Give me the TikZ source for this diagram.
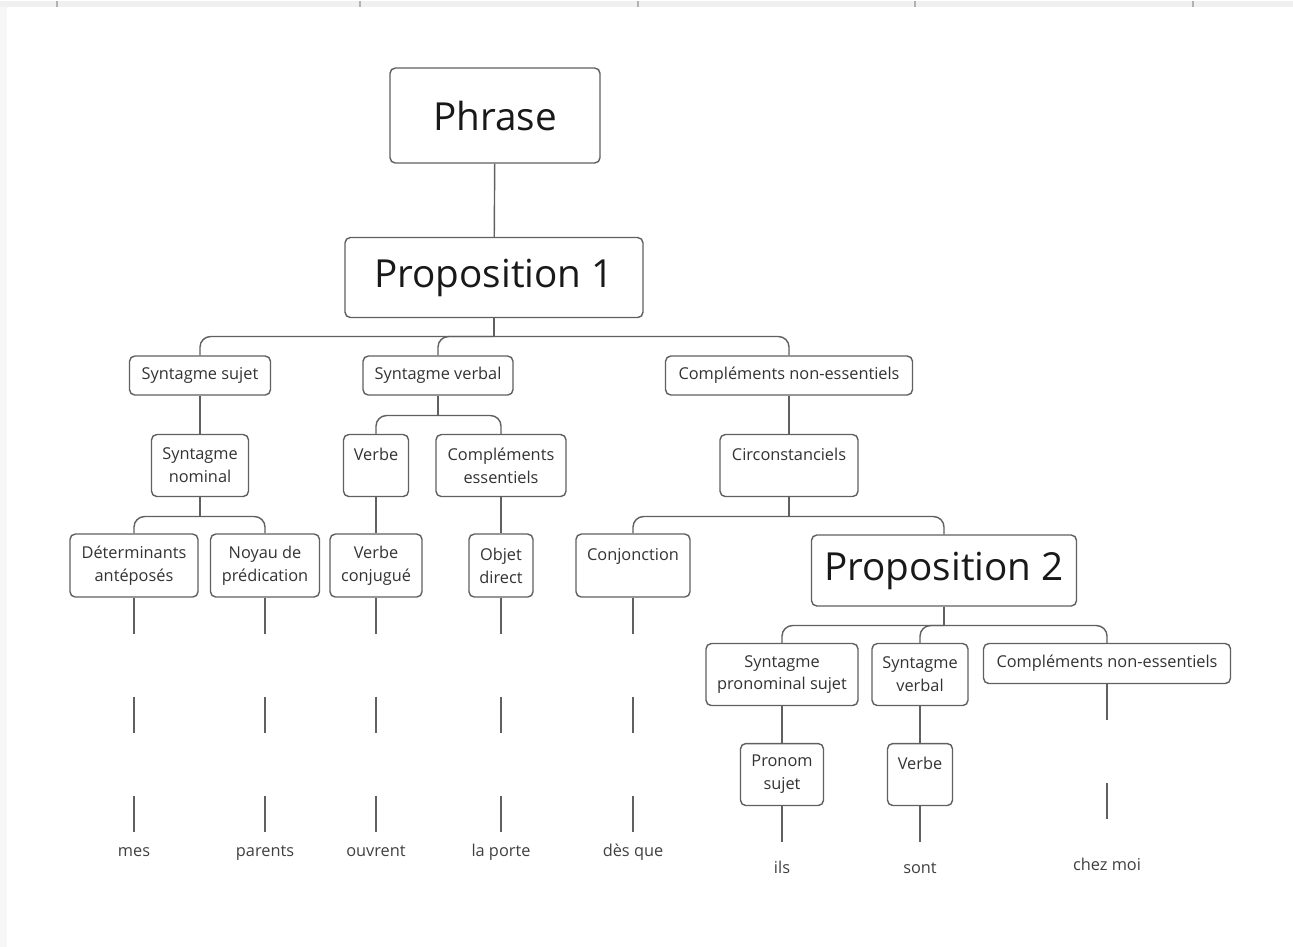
\documentclass[tikz,border=0pt]{standalone}
\usepackage{fontspec}
\setmainfont{Open Sans}
\begin{document}
\begin{tikzpicture}[x=0.02cm,y=-0.02cm,
    box/.style={draw=gray!75!black, fill=white, rounded corners=3pt, line width=0.8pt,
      align=center, inner sep=0pt, font=\fontsize{9.3}{13}\selectfont, text=black!80},
    bigbox/.style={box, font=\fontsize{22}{26}\selectfont, text=black!90},
    word/.style={inner sep=2pt, text height=1.6ex, text depth=0.3ex,
      font=\fontsize{9.3}{13}\selectfont, text=black!75},
    link/.style={draw=gray!75!black, line width=0.8pt},
    bus/.style={link, rounded corners=6pt},
    leaf/.style={link, dash pattern=on 20.5pt off 35.8pt}]
  % page and sheet edges
  \fill[white] (0,0) rectangle (1293,946);
  \fill[gray!12] (0,0) rectangle (1293,6);
  \fill[gray!6] (0,6) rectangle (7,946);
  \foreach \x in {57,360,638,915,1193}
    \draw[gray!60, line width=0.6pt] (\x,0) -- (\x,6);

  % top of the tree
  \node[bigbox, minimum width=4.2cm, minimum height=1.9cm] (phrase) at (495,115) {Phrase};
  \node[bigbox, minimum width=5.96cm, minimum height=1.6cm] (prop1) at (494,277) {Proposition 1};

  % first level
  \node[box, minimum width=2.82cm, minimum height=0.78cm] (ssujet) at (200,375) {Syntagme sujet};
  \node[box, minimum width=3.0cm, minimum height=0.78cm] (sverbal) at (438,375) {Syntagme verbal};
  \node[box, minimum width=4.94cm, minimum height=0.78cm] (cne) at (789,375) {Compléments non-essentiels};

  % second level
  \node[box, minimum width=1.94cm, minimum height=1.24cm] (snominal) at (200,465) {Syntagme\\nominal};
  \node[box, minimum width=1.3cm, minimum height=1.24cm] (verbe) at (376,465) {Verbe\\~};
  \node[box, minimum width=2.6cm, minimum height=1.24cm] (cess) at (501,465) {Compléments\\essentiels};
  \node[box, minimum width=2.76cm, minimum height=1.24cm] (circ) at (789,465) {Circonstanciels\\~};

  % third level
  \node[box, minimum width=2.56cm, minimum height=1.26cm] (det) at (134,565) {Déterminants\\antéposés};
  \node[box, minimum width=2.18cm, minimum height=1.26cm] (noyau) at (265,565) {Noyau de\\prédication};
  \node[box, minimum width=1.84cm, minimum height=1.26cm] (vconj) at (376,565) {Verbe\\conjugué};
  \node[box, minimum width=1.28cm, minimum height=1.26cm] (objet) at (501,565) {Objet\\direct};
  \node[box, minimum width=2.28cm, minimum height=1.26cm] (conj) at (633,565) {Conjonction\\~};
  \node[bigbox, minimum width=5.3cm, minimum height=1.42cm] (prop2) at (944,570) {Proposition 2};

  % under Proposition 2
  \node[box, minimum width=3.04cm, minimum height=1.24cm] (spron) at (782,674) {Syntagme\\pronominal sujet};
  \node[box, minimum width=1.92cm, minimum height=1.24cm] (sverbal2) at (920,674) {Syntagme\\verbal};
  \node[box, minimum width=4.94cm, minimum height=0.8cm] (cne2) at (1107,663) {Compléments non-essentiels};
  \node[box, minimum width=1.66cm, minimum height=1.24cm] (pronom) at (782,774) {Pronom\\sujet};
  \node[box, minimum width=1.3cm, minimum height=1.24cm] (verbe2) at (920,774) {Verbe\\~};

  % words of the sentence
  \node[word] (mes) at (134,850) {mes};
  \node[word] (parents) at (265,850) {parents};
  \node[word] (ouvrent) at (376,850) {ouvrent};
  \node[word] (porte) at (501,850) {la porte};
  \node[word] (desque) at (633,850) {dès que};
  \node[word] (ils) at (782,867) {ils};
  \node[word] (sont) at (920,867) {sont};
  \node[word] (chezmoi) at (1107,864) {chez moi};

  % branch points
  \coordinate (b1) at (494,336);
  \coordinate (b2) at (438,415);
  \coordinate (b3) at (200,516);
  \coordinate (b4) at (789,516);
  \coordinate (b5) at (944,625);

  % single links
  \draw[link] (phrase) -- (prop1);
  \draw[link] (ssujet) -- (snominal);
  \draw[link] (cne) -- (circ);
  \draw[link] (verbe) -- (vconj);
  \draw[link] (cess) -- (objet);
  \draw[link] (spron) -- (pronom);
  \draw[link] (sverbal2) -- (verbe2);

  % forks
  \draw[link] (prop1.south) -- (b1);
  \foreach \c in {ssujet,sverbal,cne}
    \draw[bus] (b1) -| (\c.north);
  \draw[link] (sverbal.south) -- (b2);
  \foreach \c in {verbe,cess}
    \draw[bus] (b2) -| (\c.north);
  \draw[link] (snominal.south) -- (b3);
  \foreach \c in {det,noyau}
    \draw[bus] (b3) -| (\c.north);
  \draw[link] (circ.south) -- (b4);
  \foreach \c in {conj,prop2}
    \draw[bus] (b4) -| (\c.north);
  \draw[link] (prop2.south) -- (b5);
  \foreach \c in {spron,sverbal2,cne2}
    \draw[bus] (b5) -| (\c.north);

  % down to the words
  \draw[leaf] (det.south) -- (mes.north);
  \draw[leaf] (noyau.south) -- (parents.north);
  \draw[leaf] (vconj.south) -- (ouvrent.north);
  \draw[leaf] (objet.south) -- (porte.north);
  \draw[leaf] (conj.south) -- (desque.north);
  \draw[leaf] (cne2.south) -- (chezmoi.north);
  \draw[link, shorten >=7pt] (pronom.south) -- (ils.north);
  \draw[link, shorten >=7pt] (verbe2.south) -- (sont.north);
\end{tikzpicture}
\end{document}
